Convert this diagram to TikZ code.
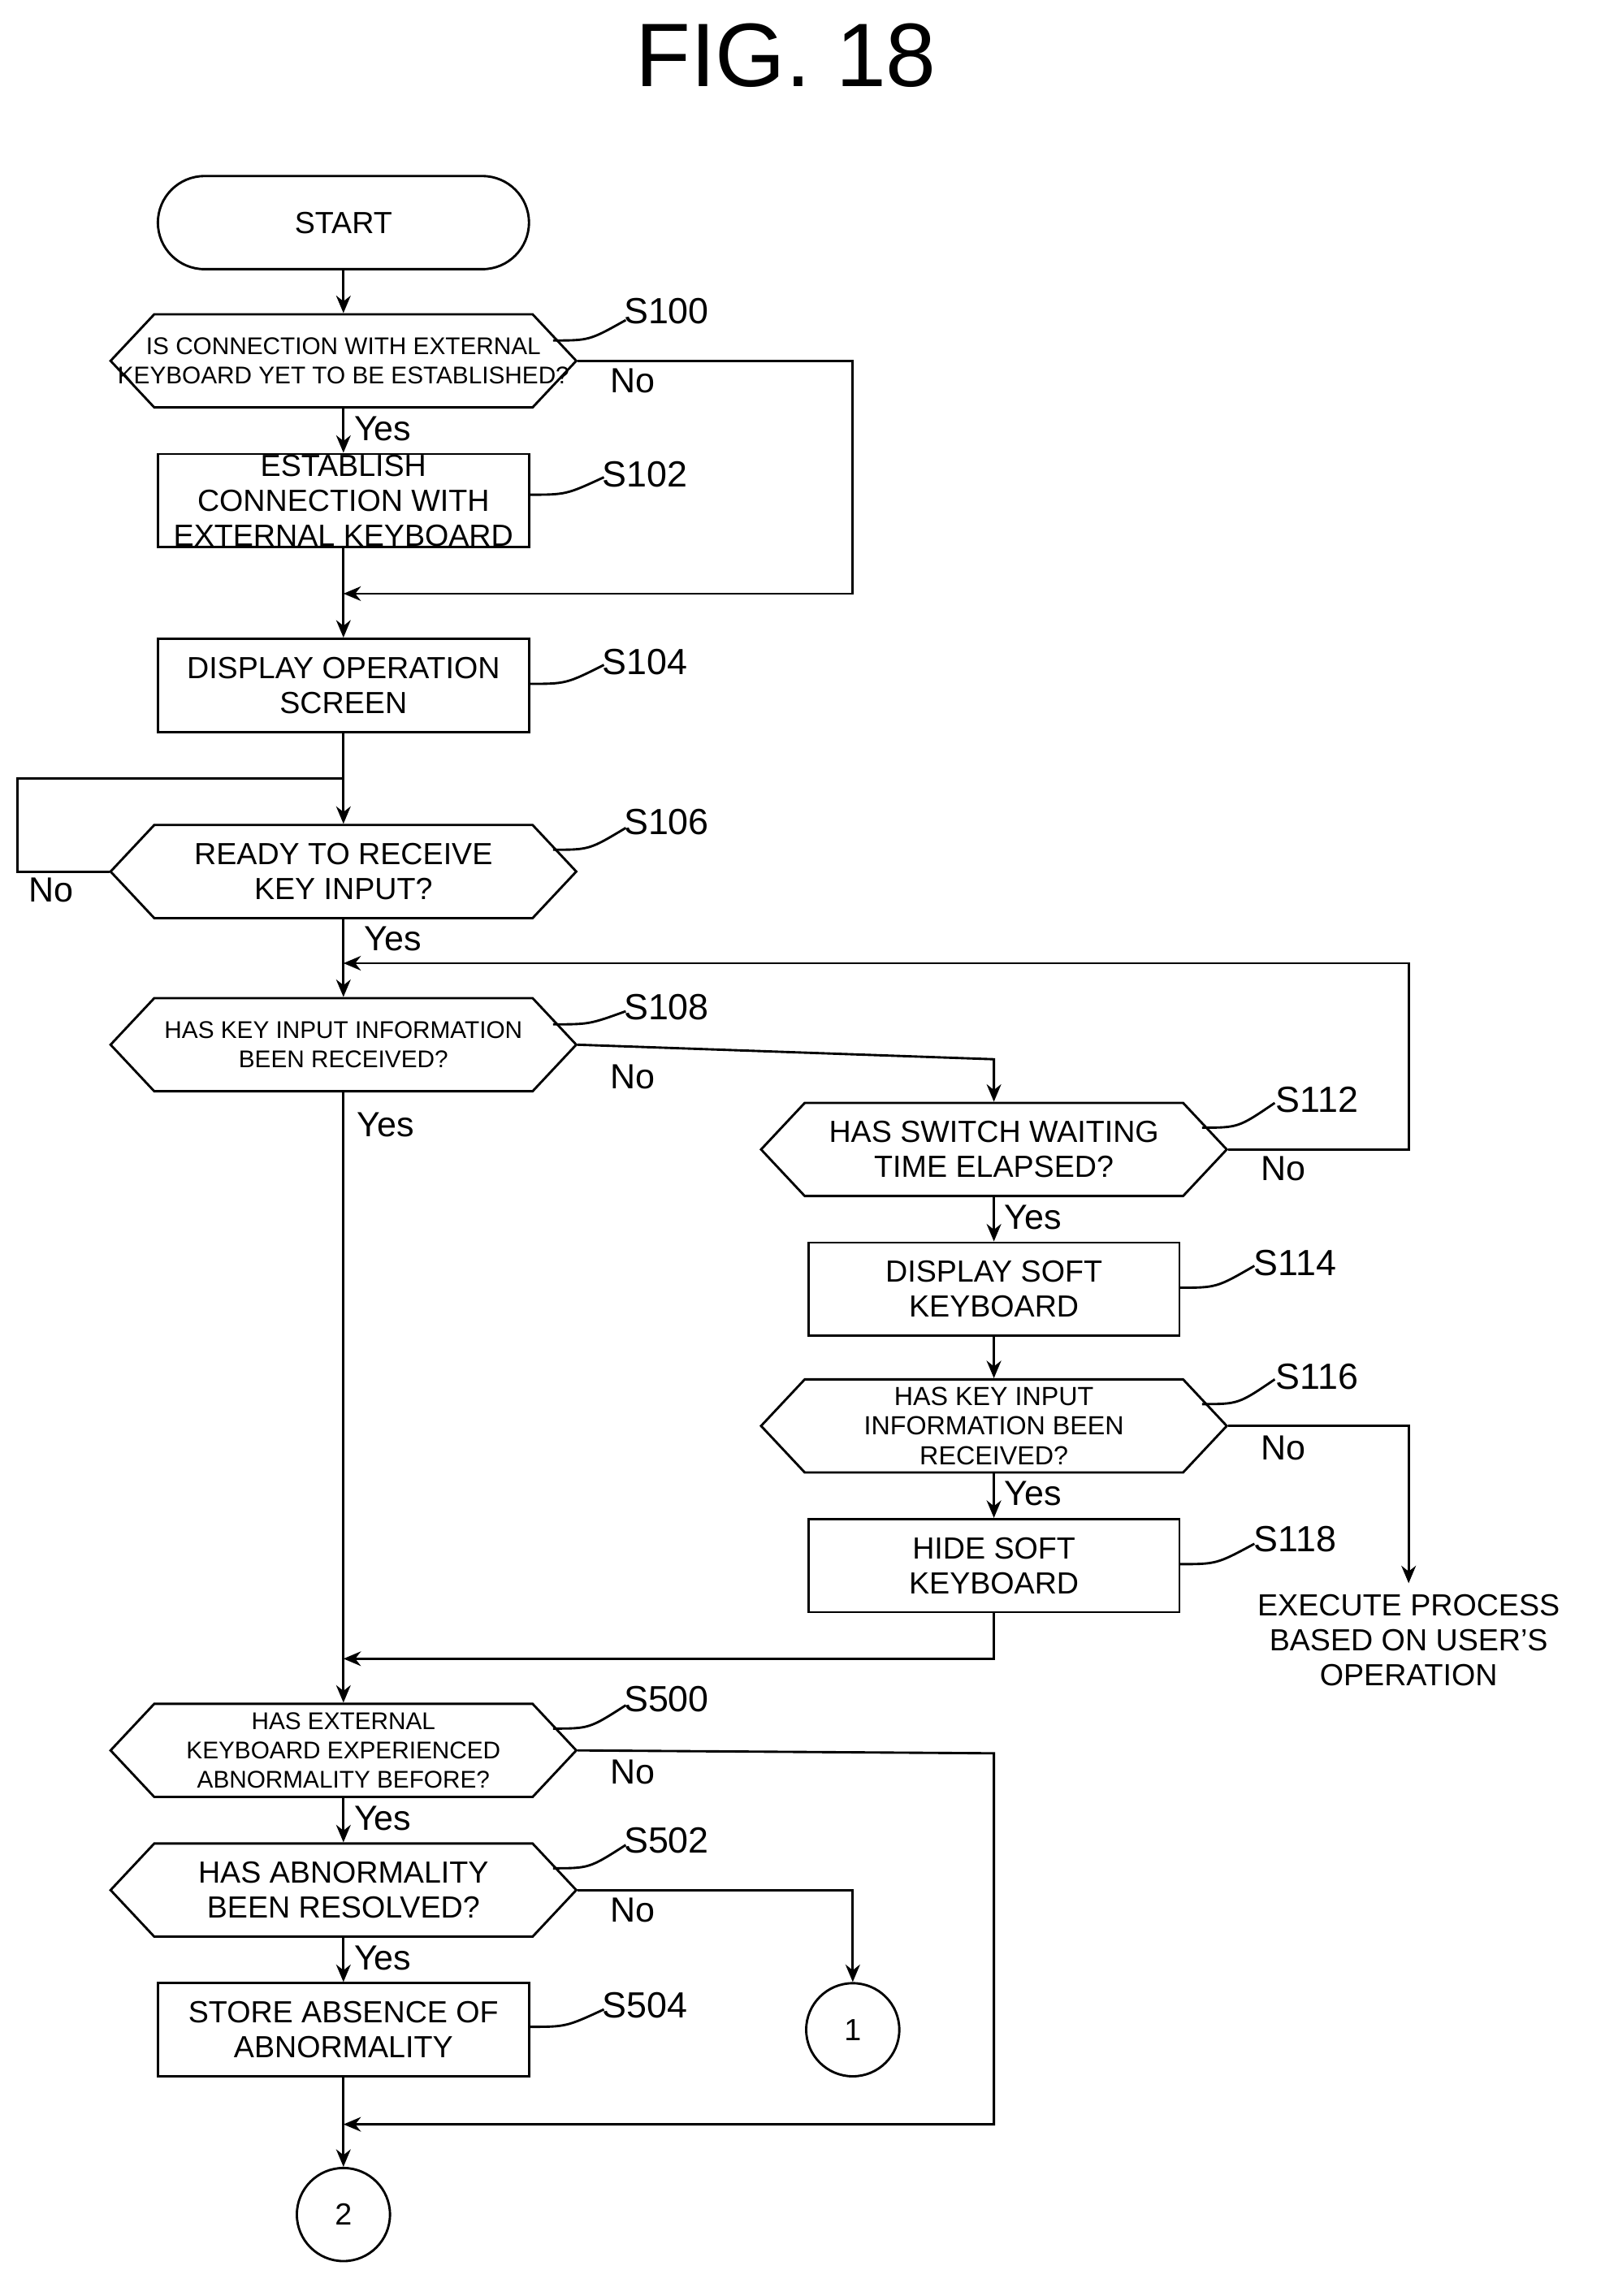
\documentclass[tikz,border=0pt]{standalone}
\usepackage{fontspec}
\setmainfont{Liberation Sans}
\usetikzlibrary{arrows.meta}
\begin{document}
\begin{tikzpicture}[x=0.5pt,y=-0.5pt,line width=0.8pt,>={Stealth[length=6pt,width=5pt]},
 box/.style={draw,minimum width=127.5pt,minimum height=32pt,align=center,inner sep=0pt,font=\fontsize{10.5}{12}\selectfont},
 hexn/.style={minimum width=160pt,minimum height=32pt,align=center,inner sep=0pt},
 lab/.style={font=\fontsize{12.5}{14}\selectfont},
 yn/.style={font=\fontsize{12}{14}\selectfont},
 sm/.style={font=\fontsize{8.3}{10}\selectfont},
 md/.style={font=\fontsize{10.5}{12}\selectfont},
 ms/.style={font=\fontsize{9}{10.2}\selectfont}]
\useasboundingbox (0,0) rectangle (1100,1578);
\newcommand{\hexa}[5]{% name cx cy style text
 \node[hexn,#4] (#1) at (#2,#3) {#5};
 \draw (#2-160,#3) -- (#2-130,#3-32) -- (#2+130,#3-32) -- (#2+160,#3) -- (#2+130,#3+32) -- (#2-130,#3+32) -- cycle;}
\newcommand{\lead}[4]{\draw (#1,#2) .. controls (#1+20,#2-4) .. (#3,#4);}
\node[font=\fontsize{31}{34}\selectfont] (t) at (540,38) {FIG. 18};
\node[draw,rounded corners=16pt,minimum width=127.5pt,minimum height=32pt,md] (st) at (236,153) {START};
\hexa{s100}{236}{248}{sm}{IS CONNECTION WITH EXTERNAL\\KEYBOARD YET TO BE ESTABLISHED?}
\node[box] (s102) at (236,344) {ESTABLISH\\CONNECTION WITH\\EXTERNAL KEYBOARD};
\node[box] (s104) at (236,471) {DISPLAY OPERATION\\SCREEN};
\hexa{s106}{236}{599}{md}{READY TO RECEIVE\\KEY INPUT?}
\hexa{s108}{236}{718}{sm}{HAS KEY INPUT INFORMATION\\BEEN RECEIVED?}
\hexa{s112}{683}{790}{md}{HAS SWITCH WAITING\\TIME ELAPSED?}
\node[box] (s114) at (683,886) {DISPLAY SOFT\\KEYBOARD};
\hexa{s116}{683}{980}{ms}{HAS KEY INPUT\\INFORMATION BEEN\\RECEIVED?}
\node[box] (s118) at (683,1076) {HIDE SOFT\\KEYBOARD};
\node[md,align=center] (ex) at (968,1127) {EXECUTE PROCESS\\BASED ON USER'S\\OPERATION};
\hexa{s500}{236}{1203}{sm}{HAS EXTERNAL\\KEYBOARD EXPERIENCED\\ABNORMALITY BEFORE?}
\hexa{s502}{236}{1299}{md}{HAS ABNORMALITY\\BEEN RESOLVED?}
\node[box] (s504) at (236,1395) {STORE ABSENCE OF\\ABNORMALITY};
\node[draw,circle,minimum size=32pt,inner sep=0pt,md] (c1) at (586,1395) {1};
\node[draw,circle,minimum size=32pt,inner sep=0pt,md] (c2) at (236,1522) {2};
% labels
\foreach \n/\x/\y/\lx/\ly/\ex/\ey in {S100/458/214/380/234/430/220, S102/443/326/363/340/415/328, S104/443/455/363/470/415/457,
 S106/458/565/380/584/430/569, S108/458/692/380/704/430/695, S112/905/756/826/775/876/758, S114/890/868/810/885/862/870,
 S116/905/946/826/965/876/948, S118/890/1058/810/1075/862/1061, S500/458/1168/380/1188/430/1172, S502/458/1265/380/1284/430/1268, S504/443/1378/363/1393/415/1381}
 {\node[lab] at (\x,\y) {\n}; \draw (\lx,\ly) .. controls ({(\lx+\ex)/2},\ly) .. (\ex,\ey);}
% connectors
\draw[->] (st) -- (s100);
\draw[->] (s100) -- node[yn,right,pos=.45]{Yes} (s102);
\coordinate (m1) at (236,408);
\draw (s102) -- (m1); \draw[->] (m1) -- (s104);
\draw[->] (s100.east) -- (586,248) -- (586,408) -- (m1);
\node[yn] at (435,262) {No};
\coordinate (m2) at (236,535);
\draw (s104) -- (m2); \draw[->] (m2) -- (s106);
\draw (s106.west) -- (12,599) -- (12,535) -- (m2);
\node[yn] at (35,612) {No};
\coordinate (m3) at (236,662);
\draw (s106) -- (m3); \draw[->] (m3) -- (s108);
\node[yn] at (270,645) {Yes};
\draw[->] (s112.east) -- (968,790) -- (968,662) -- (m3);
\node[yn] at (882,803) {No};
\draw[->] (s108.east) -- (683,728) -- (s112.north);
\node[yn] at (435,740) {No};
\node[yn] at (265,773) {Yes};
\draw[->] (s112) -- node[yn,right,pos=.45]{Yes} (s114);
\draw[->] (s114) -- (s116);
\draw[->] (s116) -- node[yn,right,pos=.45]{Yes} (s118);
\draw[->] (s116.east) -- (968,980) -- (ex.north);
\node[yn] at (882,995) {No};
\coordinate (m4) at (236,1140);
\draw (s108) -- (m4); \draw[->] (m4) -- (s500);
\draw[->] (s118) -- (683,1140) -- (m4);
\draw[->] (s500) -- node[yn,right,pos=.45]{Yes} (s502);
\draw[->] (s500.east) -- (683,1205) -- (683,1460) -- (236,1460);
\node[yn] at (435,1218) {No};
\draw[->] (s502) -- node[yn,right,pos=.45]{Yes} (s504);
\draw[->] (s502.east) -- (586,1299) -- (c1);
\node[yn] at (435,1313) {No};
\draw[->] (s504) -- (c2);
\end{tikzpicture}
\end{document}
